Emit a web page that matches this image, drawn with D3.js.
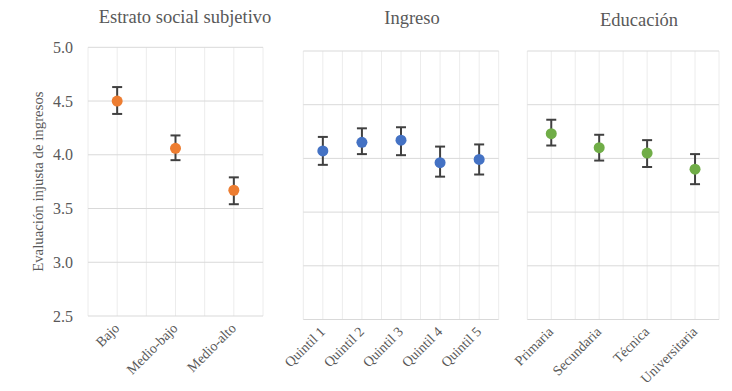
<!DOCTYPE html>
<html>
<head>
<meta charset="utf-8">
<script src="https://cdn.jsdelivr.net/npm/d3@7"></script>
<style>
  body { margin: 0; background: #fff; }
  text { font-family: "Liberation Serif", "DejaVu Serif", serif; fill: #595959; }
</style>
</head>
<body>
<div id="chart"></div>
<script>
// datos
var estratoCats = ["Bajo", "Medio-bajo", "Medio-alto"];
var estratoMedia = [4.50, 4.06, 3.67];
var estratoMin = [4.38, 3.95, 3.54];
var estratoMax = [4.63, 4.18, 3.79];

var ingresoCats = ["Quintil 1", "Quintil 2", "Quintil 3", "Quintil 4", "Quintil 5"];
var ingresoMedia = [4.07, 4.15, 4.17, 3.96, 3.99];
var ingresoMin = [3.94, 4.04, 4.03, 3.83, 3.85];
var ingresoMax = [4.20, 4.28, 4.29, 4.11, 4.13];

var educCats = ["Primaria", "Secundaria", "Técnica", "Universitaria"];
var educMedia = [4.23, 4.10, 4.05, 3.90];
var educMin = [4.12, 3.98, 3.92, 3.76];
var educMax = [4.36, 4.22, 4.17, 4.04];

var yTicks = [2.5, 3.0, 3.5, 4.0, 4.5, 5.0];

var width = 732, height = 391;

var svg = d3.select('#chart')
  .append('svg')
  .attr('width', width)
  .attr('height', height);

var paneles = [
  { titulo: "Estrato social subjetivo", cats: estratoCats, media: estratoMedia, min: estratoMin, max: estratoMax,
    color: "#ED7D31", x0: 88, x1: 263, y0: 316, y1: 47.3, tx: 185, ty: 23, ejeY: true },
  { titulo: "Ingreso", cats: ingresoCats, media: ingresoMedia, min: ingresoMin, max: ingresoMax,
    color: "#4472C4", x0: 303.3, x1: 498.7, y0: 319.5, y1: 51, tx: 412, ty: 24, ejeY: false },
  { titulo: "Educación", cats: educCats, media: educMedia, min: educMin, max: educMax,
    color: "#70AD47", x0: 527.3, x1: 719, y0: 319.5, y1: 51, tx: 639, ty: 26, ejeY: false }
];

paneles.forEach(function (p) {
  var g = svg.append('g');

  var x = d3.scaleBand()
    .domain(p.cats)
    .range([p.x0, p.x1]);

  var y = d3.scaleLinear()
    .domain([2.5, 5])
    .range([p.y0, p.y1]);

  // lineas verticales cada media categoria
  var vlines = [];
  p.cats.forEach(function (c) {
    vlines.push(x(c));
    vlines.push(x(c) + x.bandwidth() / 2);
  });
  vlines.push(p.x1);

  g.selectAll('.vgrid')
    .data(vlines)
    .enter()
    .append('line')
    .attr('x1', function (d) { return d; })
    .attr('x2', function (d) { return d; })
    .attr('y1', y(5))
    .attr('y2', y(2.5))
    .attr('stroke', '#ececec')
    .attr('stroke-width', 1);

  g.selectAll('.hgrid')
    .data(yTicks)
    .enter()
    .append('line')
    .attr('x1', p.x0)
    .attr('x2', p.x1)
    .attr('y1', function (d) { return y(d); })
    .attr('y2', function (d) { return y(d); })
    .attr('stroke', '#d9d9d9')
    .attr('stroke-width', 1);

  if (p.ejeY) {
    var yAxis = d3.axisLeft(y)
      .tickValues(yTicks)
      .tickSize(0)
      .tickPadding(15)
      .tickFormat(d3.format('.1f'));
    g.append('g')
      .attr('transform', 'translate(' + p.x0 + ',0)')
      .call(yAxis)
      .call(function (s) { s.select('.domain').remove(); })
      .selectAll('text')
      .attr('font-size', 16)
      .style('font-family', '"Liberation Serif", serif')
      .attr('fill', '#595959');

    svg.append('text')
      .attr('transform', 'translate(43,' + ((p.y0 + p.y1) / 2) + ') rotate(-90)')
      .attr('text-anchor', 'middle')
      .attr('font-size', 14.8)
      .text('Evaluación injusta de ingresos');
  }

  // etiquetas del eje x
  g.selectAll('.xlab')
    .data(p.cats)
    .enter()
    .append('text')
    .attr('transform', function (d) {
      return 'translate(' + (x(d) + x.bandwidth() / 2 + 3) + ',' + (p.y0 + 13) + ') rotate(-45)';
    })
    .attr('text-anchor', 'end')
    .attr('font-size', 14)
    .text(function (d) { return d; });

  // titulo
  g.append('text')
    .attr('x', p.tx)
    .attr('y', p.ty)
    .attr('text-anchor', 'middle')
    .attr('font-size', 18.5)
    .text(p.titulo);

  // barras de error
  var cx = function (d, i) { return x(p.cats[i]) + x.bandwidth() / 2; };

  g.selectAll('.err')
    .data(p.media)
    .enter()
    .append('line')
    .attr('x1', cx)
    .attr('x2', cx)
    .attr('y1', function (d, i) { return y(p.max[i]); })
    .attr('y2', function (d, i) { return y(p.min[i]); })
    .attr('stroke', '#404040')
    .attr('stroke-width', 2);

  [p.max, p.min].forEach(function (arr) {
    g.selectAll(null)
      .data(arr)
      .enter()
      .append('line')
      .attr('x1', function (d, i) { return cx(d, i) - 5; })
      .attr('x2', function (d, i) { return cx(d, i) + 5; })
      .attr('y1', function (d) { return y(d); })
      .attr('y2', function (d) { return y(d); })
      .attr('stroke', '#404040')
      .attr('stroke-width', 2);
  });

  g.selectAll('.punto')
    .data(p.media)
    .enter()
    .append('circle')
    .attr('cx', cx)
    .attr('cy', function (d) { return y(d); })
    .attr('r', 5.5)
    .attr('fill', p.color);
});
</script>
</body>
</html>
